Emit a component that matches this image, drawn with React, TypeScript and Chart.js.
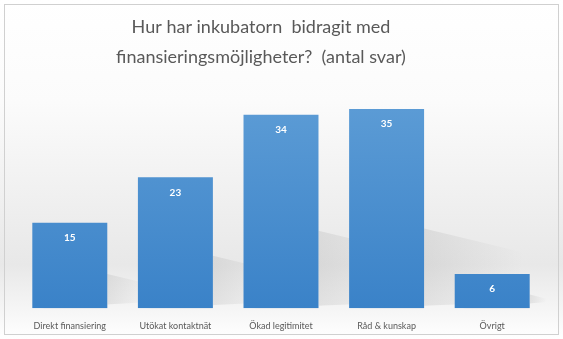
import React, { useEffect, useRef } from "react";
import { Chart, registerables } from "chart.js";

Chart.register(...registerables);

const categories = ["Direkt finansiering", "Utökat kontaktnät", "Ökad legitimitet", "Råd & kunskap", "Övrigt"];
const values = [15, 23, 34, 35, 6];
const titleLines = ["Hur har inkubatorn  bidragit med", "finansieringsmöjligheter?  (antal svar)"];

const FONT = "Lato, 'Open Sans', sans-serif";

const bgPlugin = {
  id: "bg",
  beforeDraw(chart: any) {
    const { ctx, width, height } = chart;
    ctx.save();
    const g = ctx.createLinearGradient(0, 0, 0, height);
    g.addColorStop(0, "#ffffff");
    g.addColorStop(0.3, "#fbfbfb");
    g.addColorStop(0.78, "#e8e8e8");
    g.addColorStop(0.92, "#f6f6f6");
    g.addColorStop(1, "#ffffff");
    ctx.fillStyle = g;
    ctx.fillRect(0, 0, width, height);
    ctx.strokeStyle = "#d0d0d0";
    ctx.lineWidth = 1;
    ctx.strokeRect(4.5, 4.5, width - 9, height - 9);
    // title
    ctx.fillStyle = "#595959";
    ctx.font = `18px ${FONT}`;
    ctx.textAlign = "center";
    ctx.textBaseline = "middle";
    titleLines.forEach((t, i) => ctx.fillText(t, 261, 27 + i * 30));
    ctx.restore();
  },
  beforeDatasetsDraw(chart: any) {
    const { ctx } = chart;
    const meta = chart.getDatasetMeta(0);
    ctx.save();
    meta.data.forEach((bar: any) => {
      const w = bar.width;
      const left = bar.x - w / 2;
      const right = bar.x + w / 2;
      const bottom = bar.base;
      const top = bar.y;
      const h = bottom - top;
      const g = ctx.createLinearGradient(right, 0, right + h * 0.5, 0);
      g.addColorStop(0, "rgba(160,160,160,0.22)");
      g.addColorStop(1, "rgba(160,160,160,0)");
      ctx.fillStyle = g;
      ctx.beginPath();
      ctx.moveTo(left + 8, bottom);
      ctx.lineTo(right, bottom);
      ctx.lineTo(right, top + h * 0.6);
      ctx.lineTo(right + h * 0.5, top + h * 0.72);
      ctx.lineTo(right + h * 0.45, bottom - 6);
      ctx.closePath();
      ctx.fill();
    });
    ctx.restore();
  },
  afterDatasetsDraw(chart: any) {
    const { ctx } = chart;
    const meta = chart.getDatasetMeta(0);
    ctx.save();
    ctx.fillStyle = "#ffffff";
    ctx.font = `bold 10px ${FONT}`;
    ctx.textAlign = "center";
    ctx.textBaseline = "middle";
    meta.data.forEach((bar: any, i: number) => {
      ctx.fillText(String(values[i]), bar.x, bar.y + 15);
    });
    ctx.restore();
  },
};

export default function App() {
  const ref = useRef<HTMLCanvasElement>(null);
  useEffect(() => {
    document.body.style.margin = "0";
    const chart = new Chart(ref.current!, {
      type: "bar",
      data: {
        labels: categories,
        datasets: [
          {
            data: values,
            backgroundColor: (c: any) => {
              const area = c.chart.chartArea;
              if (!area) return "#4f90d0";
              const g = c.chart.ctx.createLinearGradient(0, area.top, 0, area.bottom);
              g.addColorStop(0, "#5b9bd5");
              g.addColorStop(1, "#3a82c8");
              return g;
            },
            borderWidth: 0,
            categoryPercentage: 1,
            barPercentage: 0.71,
          },
        ],
      },
      options: {
        animation: false,
        responsive: false,
        layout: { padding: { top: 109, left: 17, right: 18, bottom: 4 } },
        plugins: { legend: { display: false }, tooltip: { enabled: false }, title: { display: false } },
        scales: {
          y: { display: false, min: 0, max: 35 },
          x: {
            grid: { display: false },
            border: { display: false },
            ticks: { color: "#595959", font: { family: FONT, size: 9 }, padding: 4, maxRotation: 0 },
          },
        },
      },
      plugins: [bgPlugin],
    });
    return () => chart.destroy();
  }, []);
  return (
    <div style={{ position: "absolute", left: 0, top: 0, width: 563, height: 339 }}>
      <canvas ref={ref} width={563} height={339} style={{ width: 563, height: 339 }} />
    </div>
  );
}
